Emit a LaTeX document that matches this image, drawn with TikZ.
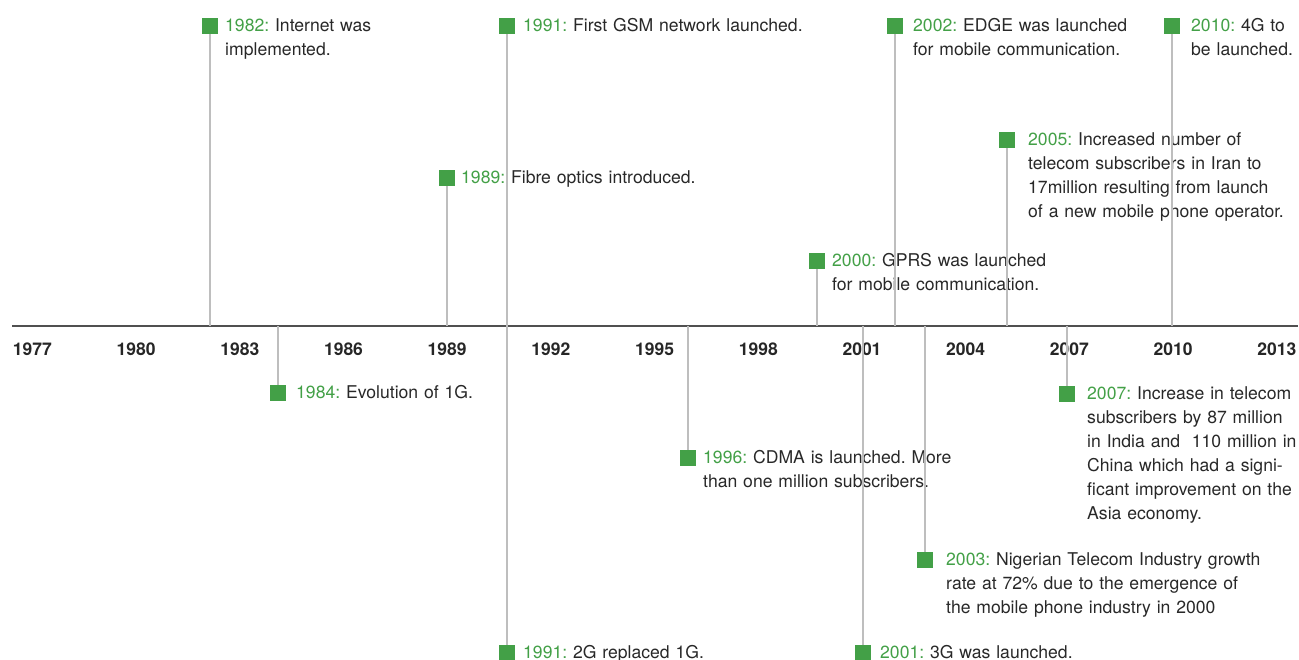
\documentclass[tikz,border=0pt]{standalone}
\usepackage{fontspec}
\setmainfont{TeX Gyre Heros}
\frenchspacing
\definecolor{tlgreen}{RGB}{67,160,71}
\definecolor{tltext}{RGB}{40,40,40}
\definecolor{tlstem}{RGB}{190,190,190}
\definecolor{tlaxis}{RGB}{80,80,80}
\newcommand{\yeartag}[1]{\textcolor{tlgreen}{#1}}

\begin{document}
\begin{tikzpicture}[x=1pt,y=-1pt]
	\tikzstyle{marker} = [fill=tlgreen, minimum size=15.5pt, inner sep=0pt]
	\tikzstyle{desc} = [anchor=base west, inner sep=0pt, text=tltext, text width=360pt, align=left, font=\fontsize{17.6}{24}\selectfont]
	\tikzstyle{stem} = [draw=tlstem, line width=1.4pt]
	\tikzstyle{year label} = [font=\fontsize{17.5}{20}\selectfont\bfseries, text=black!85]

	\useasboundingbox (0,0) rectangle (1299,659);

	% time axis
	\coordinate (axL) at (12,326);
	\coordinate (axR) at (1298,326);
	\draw[draw=tlaxis, line width=1.8pt] (axL) -- (axR);
	\foreach \yr [count=\i from 0] in {1977,1980,...,2013}
		\node[year label] (y\yr) at (32.4+103.7*\i, 349) {\yr};

	% events above the axis
	\node[marker] (m1982) at (210,26) {};
	\node[desc] (d1982) at (225,31) {\yeartag{1982:} Internet was\\implemented.};
	\draw[stem] (m1982.south) -- (m1982 |- axL);

	\node[marker] (m1991a) at (507,26) {};
	\node[desc] (d1991a) at (523,31) {\yeartag{1991:} First GSM network launched.};
	\draw[stem] (m1991a.south) -- (m1991a |- axL);

	\node[marker] (m1989) at (447,178) {};
	\node[desc] (d1989) at (461,183) {\yeartag{1989:} Fibre optics introduced.};
	\draw[stem] (m1989.south) -- (m1989 |- axL);

	\node[marker] (m2000) at (817,261) {};
	\node[desc] (d2000) at (832,266) {\yeartag{2000:} GPRS was launched\\for mobile communication.};
	\draw[stem] (m2000.south) -- (m2000 |- axL);

	\node[marker] (m2002) at (895,26) {};
	\node[desc] (d2002) at (913,31) {\yeartag{2002:} EDGE was launched\\for mobile communication.};
	\draw[stem] (m2002.south) -- (m2002 |- axL);

	\node[marker] (m2005) at (1007,140) {};
	\node[desc] (d2005) at (1028,145) {\yeartag{2005:} Increased number of\\telecom subscribers in Iran to\\17million resulting from launch\\of a new mobile phone operator.};
	\draw[stem] (m2005.south) -- (m2005 |- axL);

	\node[marker] (m2010) at (1172,26) {};
	\node[desc] (d2010) at (1191,31) {\yeartag{2010:} 4G to\\be launched.};
	\draw[stem] (m2010.south) -- (m2010 |- axL);

	% events below the axis
	\node[marker] (m1984) at (278,393) {};
	\node[desc] (d1984) at (296,398) {\yeartag{1984:} Evolution of 1G.};
	\draw[stem] (m1984 |- axL) -- (m1984.north);

	\node[marker] (m1996) at (688,458) {};
	\node[desc] (d1996) at (703,463) {\yeartag{1996:} CDMA is launched. More\\than one million subscribers.};
	\draw[stem] (m1996 |- axL) -- (m1996.north);

	\node[marker] (m2007) at (1067,394) {};
	\node[desc] (d2007) at (1087,399) {\yeartag{2007:} Increase in telecom\\subscribers by 87 million\\in India and~ 110 million in\\China which had a signi-\\ficant improvement on the\\Asia economy.};
	\draw[stem] (m2007 |- axL) -- (m2007.north);

	\node[marker] (m2003) at (925,560) {};
	\node[desc] (d2003) at (946,565) {\yeartag{2003:} Nigerian Telecom Industry growth\\rate at 72\% due to the emergence of\\the mobile phone industry in 2000};
	\draw[stem] (m2003 |- axL) -- (m2003.north);

	\node[marker] (m1991b) at (507,653) {};
	\node[desc] (d1991b) at (523,658) {\yeartag{1991:} 2G replaced 1G.};
	\draw[stem] (m1991b |- axL) -- (m1991b.north);

	\node[marker] (m2001) at (863,653) {};
	\node[desc] (d2001) at (880,658) {\yeartag{2001:} 3G was launched.};
	\draw[stem] (m2001 |- axL) -- (m2001.north);
\end{tikzpicture}
\end{document}
